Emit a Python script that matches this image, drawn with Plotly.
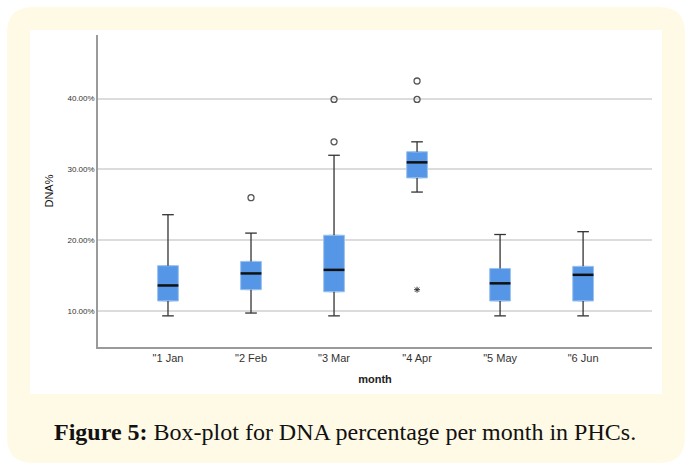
import plotly.graph_objects as go

months = ['"1 Jan', '"2 Feb', '"3 Mar', '"4 Apr', '"5 May', '"6 Jun']
lower = [9.3, 9.7, 9.3, 26.8, 9.3, 9.3]
q1 = [11.4, 13.0, 12.7, 28.8, 11.4, 11.4]
median = [13.6, 15.3, 15.8, 31.0, 13.9, 15.1]
q3 = [16.4, 17.0, 20.7, 32.5, 16.0, 16.3]
upper = [23.6, 21.0, 32.0, 33.9, 20.8, 21.2]
outlier_month = [1, 2, 2, 3, 3]
outlier_value = [26.0, 33.9, 39.9, 39.9, 42.5]
extreme_month = [3]
extreme_value = [13.0]
y_ticks = [10, 20, 30, 40]
y_tick_labels = ["10.00%", "20.00%", "30.00%", "40.00%"]

W, H = 690, 473
L, R, T, B = 98, 652, 35, 347

def px(x):
    return (x - L) / (R - L)

def py(y):
    return (B - y) / (B - T)

BOX_W = 0.25
CAP = 0.07

fig = go.Figure()

# whiskers
wx, wy = [], []
for i in range(len(months)):
    wx += [i, i, None, i, i, None, i - CAP, i + CAP, None, i - CAP, i + CAP, None]
    wy += [q3[i], upper[i], None, q1[i], lower[i], None, upper[i], upper[i], None, lower[i], lower[i], None]
fig.add_trace(go.Scatter(x=wx, y=wy, mode="lines", line=dict(color="#333333", width=1.3),
                         hoverinfo="skip", showlegend=False))

for i in range(len(months)):
    fig.add_trace(go.Box(x=[i], q1=[q1[i]], median=[median[i]], q3=[q3[i]],
                         lowerfence=[q1[i]], upperfence=[q3[i]], width=BOX_W,
                         fillcolor="#5597e6", line=dict(color="#9cc2f0", width=1),
                         showlegend=False, boxpoints=False))

mx, my = [], []
for i in range(len(months)):
    mx += [i - BOX_W / 2, i + BOX_W / 2, None]
    my += [median[i], median[i], None]
fig.add_trace(go.Scatter(x=mx, y=my, mode="lines", line=dict(color="#111111", width=2.5),
                         hoverinfo="skip", showlegend=False))

fig.add_trace(go.Scatter(x=outlier_month, y=outlier_value, mode="markers",
                         marker=dict(symbol="circle-open", size=6, color="#555555", line=dict(width=1.3)),
                         showlegend=False))
fig.add_trace(go.Scatter(x=extreme_month, y=extreme_value, mode="markers",
                         marker=dict(symbol="asterisk-open", size=5, color="#333333", line=dict(width=1)),
                         showlegend=False))

def rounded(x0, y0, x1, y1, r):
    X0, X1 = px(x0), px(x1)
    Y0, Y1 = py(y0), py(y1)
    rx = r / (R - L)
    ry = r / (B - T)
    return (f"M {X0+rx},{Y0} L {X1-rx},{Y0} Q {X1},{Y0} {X1},{Y0-ry} "
            f"L {X1},{Y1+ry} Q {X1},{Y1} {X1-rx},{Y1} L {X0+rx},{Y1} "
            f"Q {X0},{Y1} {X0},{Y1+ry} L {X0},{Y0-ry} Q {X0},{Y0} {X0+rx},{Y0} Z")

shapes = [
    dict(type="path", xref="paper", yref="paper", path=rounded(7, 7, 685, 463, 26),
         fillcolor="#fffae6", line=dict(width=0), layer="below"),
    dict(type="rect", xref="paper", yref="paper", x0=px(30), x1=px(662), y0=py(30), y1=py(394),
         fillcolor="#ffffff", line=dict(width=0), layer="below"),
]

fig.update_layout(
    width=W, height=H,
    margin=dict(l=L, r=W - R, t=T, b=H - B),
    paper_bgcolor="#ffffff", plot_bgcolor="rgba(0,0,0,0)",
    font=dict(family="Liberation Sans, Arial", color="#222222"),
    shapes=shapes,
    xaxis=dict(range=[-0.843, 5.83], tickvals=list(range(len(months))), ticktext=months,
               showgrid=False, zeroline=False, showline=True, linecolor="#9a9a9a", linewidth=1.5,
               ticks="", tickfont=dict(size=11, color="#333333"),
               title=dict(text="<b>month</b>", font=dict(size=11, color="#222222"), standoff=12)),
    yaxis=dict(range=[4.9, 49.0], tickvals=y_ticks, ticktext=y_tick_labels,
               showgrid=True, gridcolor="#dcdcdc", gridwidth=1.5, zeroline=False,
               showline=True, linecolor="#9a9a9a", linewidth=1.5, ticks="",
               tickfont=dict(size=8, color="#333333"),
               title=dict(text="DNA%", font=dict(size=11, color="#111111"), standoff=12)),
    annotations=[dict(text="<b>Figure 5:</b> Box-plot for DNA percentage per month in PHCs.",
                      xref="paper", yref="paper", x=px(345), y=py(432), showarrow=False,
                      xanchor="center", yanchor="middle",
                      font=dict(family="Liberation Serif", size=24, color="#111111"))],
)

fig.write_html("out.html")
